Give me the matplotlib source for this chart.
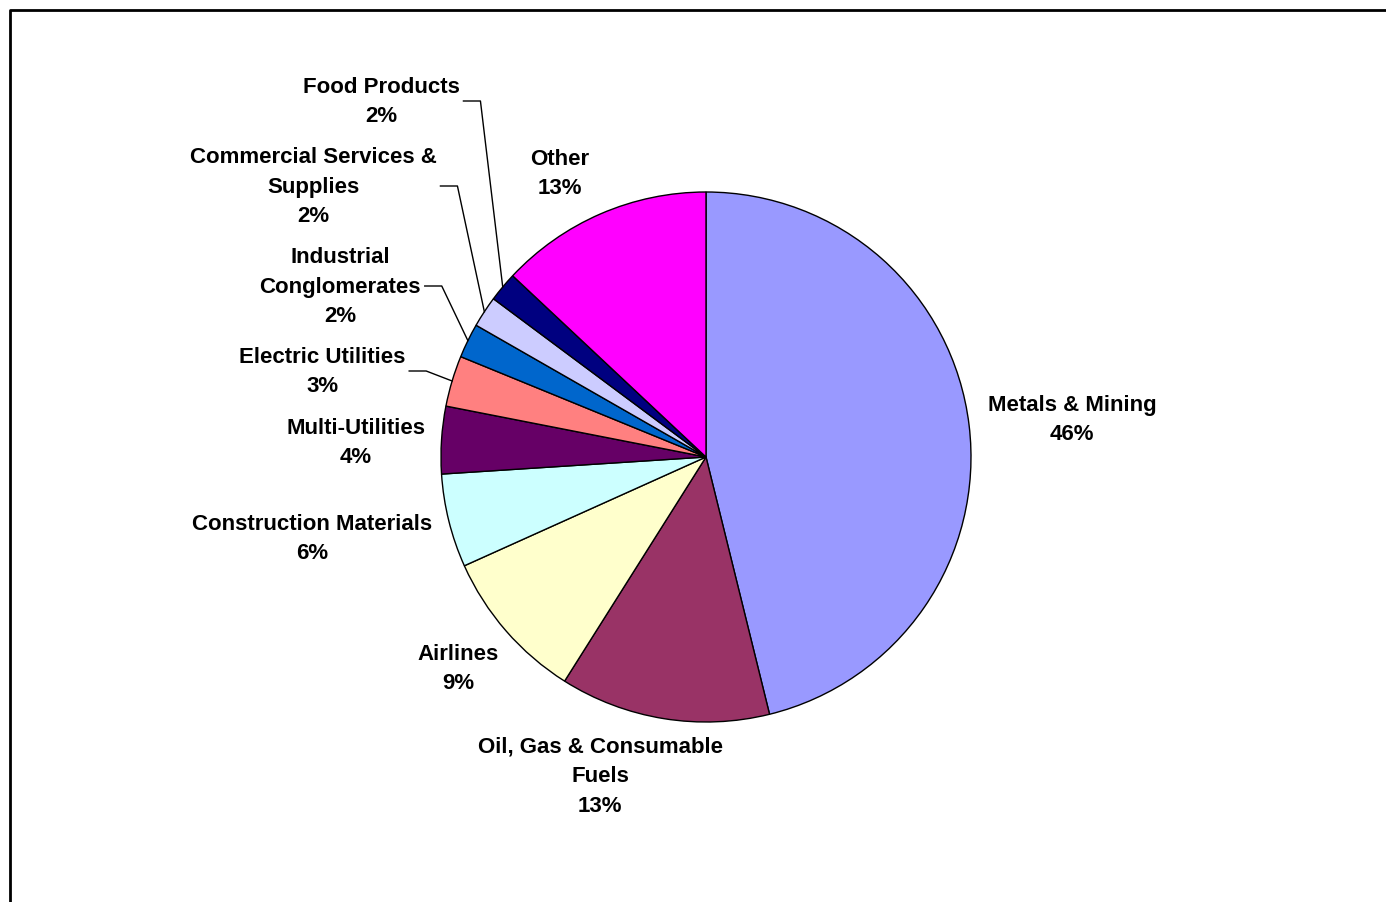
import numpy as np
import matplotlib
matplotlib.use("Agg")
import matplotlib.pyplot as plt

plt.rcParams['font.family'] = ['Liberation Sans', 'DejaVu Sans']

# sector shares (percent), clockwise from 12 o'clock
sectors = ['Metals & Mining', 'Oil, Gas & Consumable\nFuels', 'Airlines',
           'Construction Materials', 'Multi-Utilities', 'Electric Utilities',
           'Industrial\nConglomerates', 'Commercial Services &\nSupplies',
           'Food Products', 'Other']
shares = [46.1, 12.8, 9.3, 5.7, 4.1, 3.1, 2.1, 1.9, 1.8, 13.0]
colors = ['#9999FF', '#993366', '#FFFFCC', '#CCFFFF', '#660066',
          '#FF8080', '#0066CC', '#CCCCFF', '#000080', '#FF00FF']

# label centres in pixels (x, y from top) and whether a leader line is drawn
label_px = [(1072, 420), (600, 777), (458, 669), (312, 539), (356, 443),
            (322, 372), (340, 287), (313, 187), (381, 102), (560, 174)]
leader = [False, False, False, False, False, True, True, True, True, False]

W, H = 1386, 903
cx, cy, R = 706, 458, 265

fig = plt.figure(figsize=(W / 100, H / 100), dpi=100)
ax = fig.add_axes([(cx - R) / W, (H - cy - R) / H, 2 * R / W, 2 * R / H])
wedges, _ = ax.pie(shares, colors=colors, startangle=90, counterclock=False,
                   wedgeprops=dict(edgecolor='black', linewidth=1.0))
ax.set_xlim(-1, 1)
ax.set_ylim(-1, 1)
ax.set_aspect('equal')
ax.axis('off')

def to_data(px, py):
    return (px - cx) / R, (cy - py) / R

texts = []
for name, val, (px, py) in zip(sectors, shares, label_px):
    x, y = to_data(px, py)
    t = ax.text(x, y, f"{name}\n{round(val):d}%", ha='center', va='center',
                fontsize=16, fontweight='bold', linespacing=1.55,
                clip_on=False)
    texts.append(t)

fig.canvas.draw()
r = fig.canvas.get_renderer()
inv = ax.transData.inverted()
for w, t, lead in zip(wedges, texts, leader):
    if not lead:
        continue
    bb = t.get_window_extent(r)
    x0, y0 = inv.transform((bb.x1 + 4, (bb.y0 + bb.y1) / 2))
    x1 = x0 + 17 / R
    mid = np.deg2rad((w.theta1 + w.theta2) / 2)
    ex, ey = np.cos(mid), np.sin(mid)
    ax.plot([x0, x1, ex], [y0, y0, ey], color='black', lw=1.0, clip_on=False)

# outer frame (cut off at right and bottom)
fig.add_artist(plt.Line2D([10 / W, 10 / W, 1.01], [-0.01, 1 - 11 / H, 1 - 11 / H],
                          transform=fig.transFigure, color='black', lw=2))

fig.savefig('out.png', dpi=100)
